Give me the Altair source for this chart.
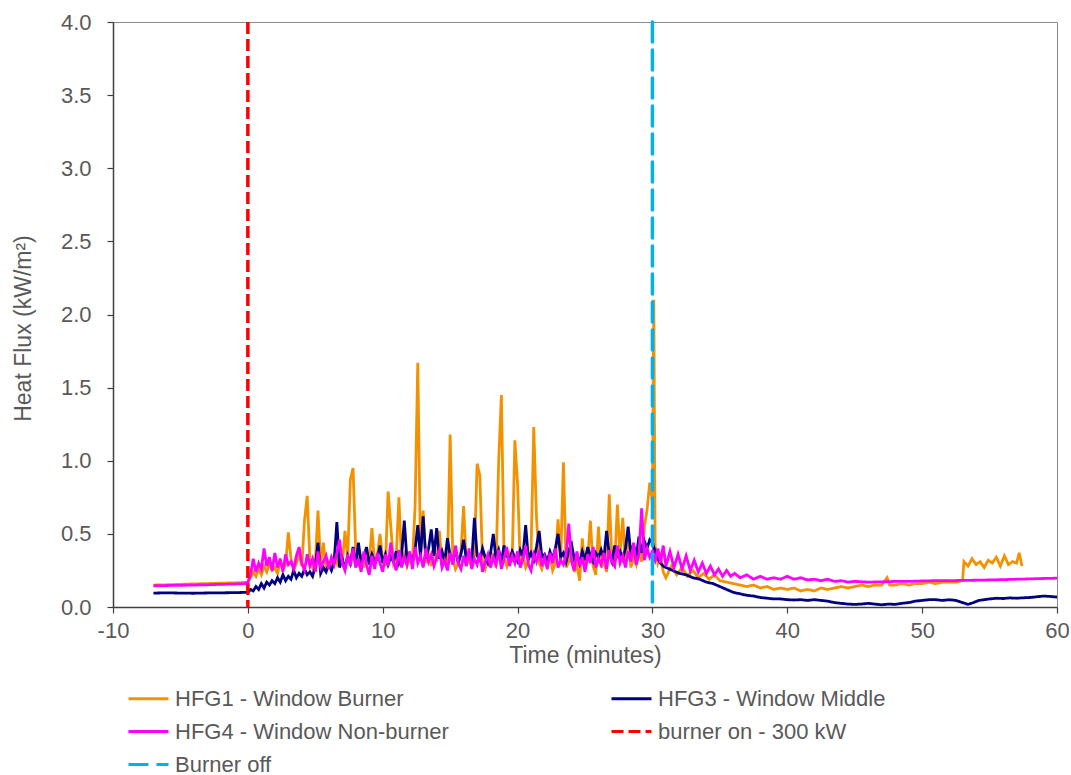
import altair as alt
import pandas as pd

# ---- measurement data (minutes, kW/m2) ----
# pre-ignition baseline
t_pre = [-7.0, -6.0, -5.0, -4.0, -3.0, -2.0, -1.0, -0.2]
hfg1_pre = [0.150, 0.152, 0.155, 0.158, 0.160, 0.163, 0.165, 0.168]
hfg3_pre = [0.095, 0.097, 0.095, 0.094, 0.096, 0.097, 0.098, 0.100]
hfg4_pre = [0.145, 0.147, 0.148, 0.150, 0.152, 0.155, 0.157, 0.160]

# burner period, logged every 0.2 min from 0 to 30 min
t_burn = [round(0.2 * i, 1) for i in range(151)]
hfg1_burn = [
    0.17, 0.20, 0.24, 0.21, 0.26, 0.22, 0.28, 0.24, 0.30, 0.25,
    0.27, 0.23, 0.31, 0.26, 0.29, 0.51, 0.33, 0.25, 0.30, 0.36,
    0.28, 0.59, 0.76, 0.32, 0.27, 0.30, 0.66, 0.29, 0.44, 0.26,
    0.31, 0.28, 0.35, 0.30, 0.40, 0.29, 0.52, 0.33, 0.87, 0.95,
    0.38, 0.30, 0.36, 0.27, 0.33, 0.31, 0.54, 0.29, 0.35, 0.50,
    0.32, 0.28, 0.79, 0.55, 0.30, 0.34, 0.75, 0.31, 0.36, 0.28,
    0.33, 0.30, 0.69, 1.67, 0.35, 0.66, 0.30, 0.36, 0.28, 0.40,
    0.31, 0.52, 0.29, 0.34, 0.27, 1.18, 0.33, 0.26, 0.30, 0.38,
    0.69, 0.28, 0.33, 0.27, 0.36, 0.98, 0.90, 0.31, 0.26, 0.34,
    0.29, 0.37, 0.27, 1.00, 1.45, 0.33, 0.28, 0.36, 0.31, 1.14,
    0.84, 0.29, 0.35, 0.27, 0.31, 0.38, 1.23, 0.62, 0.30, 0.26,
    0.33, 0.28, 0.36, 0.25, 0.30, 0.60, 0.32, 0.99, 0.27, 0.31,
    0.42, 0.24, 0.29, 0.18, 0.47, 0.26, 0.33, 0.59, 0.28, 0.22,
    0.55, 0.27, 0.31, 0.24, 0.77, 0.30, 0.28, 0.70, 0.35, 0.61,
    0.30, 0.52, 0.27, 0.34, 0.29, 0.38, 0.31, 0.55, 0.66, 0.85,
    0.72,
]
hfg3_burn = [
    0.10, 0.12, 0.11, 0.14, 0.12, 0.16, 0.13, 0.17, 0.15, 0.18,
    0.16, 0.20, 0.17, 0.22, 0.18, 0.21, 0.19, 0.25, 0.20, 0.23,
    0.21, 0.26, 0.22, 0.24, 0.21, 0.28, 0.44, 0.23, 0.27, 0.24,
    0.29, 0.25, 0.31, 0.58, 0.27, 0.33, 0.26, 0.35, 0.30, 0.41,
    0.28, 0.44, 0.30, 0.34, 0.41, 0.29, 0.36, 0.31, 0.33, 0.42,
    0.30, 0.36, 0.29, 0.34, 0.31, 0.38, 0.30, 0.35, 0.59, 0.32,
    0.36, 0.31, 0.39, 0.56, 0.34, 0.62, 0.33, 0.40, 0.53, 0.35,
    0.54, 0.33, 0.38, 0.31, 0.47, 0.35, 0.32, 0.39, 0.30, 0.36,
    0.46, 0.33, 0.37, 0.31, 0.61, 0.35, 0.32, 0.40, 0.34, 0.30,
    0.37, 0.50, 0.33, 0.39, 0.31, 0.42, 0.35, 0.32, 0.38, 0.34,
    0.31, 0.39, 0.35, 0.56, 0.33, 0.37, 0.32, 0.41, 0.52, 0.34,
    0.36, 0.31, 0.38, 0.33, 0.40, 0.50, 0.34, 0.37, 0.31, 0.39,
    0.43, 0.33, 0.36, 0.30, 0.38, 0.32, 0.41, 0.35, 0.31, 0.37,
    0.34, 0.39, 0.33, 0.52, 0.36, 0.31, 0.42, 0.35, 0.38, 0.33,
    0.40, 0.55, 0.36, 0.43, 0.34, 0.48, 0.37, 0.45, 0.40, 0.46,
    0.44,
]
hfg4_burn = [
    0.17, 0.22, 0.33, 0.24, 0.30, 0.26, 0.40, 0.28, 0.34, 0.25,
    0.37, 0.27, 0.33, 0.24, 0.36, 0.29, 0.31, 0.26, 0.35, 0.41,
    0.30, 0.25, 0.36, 0.28, 0.33, 0.24, 0.38, 0.27, 0.31, 0.35,
    0.26, 0.34, 0.29, 0.37, 0.46, 0.30, 0.25, 0.36, 0.28, 0.40,
    0.27, 0.33, 0.24, 0.38, 0.29, 0.22, 0.35, 0.26, 0.37, 0.30,
    0.24, 0.36, 0.28, 0.44, 0.31, 0.25, 0.39, 0.27, 0.34, 0.29,
    0.38, 0.26, 0.41, 0.30, 0.35, 0.27, 0.40, 0.31, 0.36, 0.28,
    0.34, 0.39, 0.27, 0.32, 0.25, 0.37, 0.29, 0.42, 0.30, 0.26,
    0.35, 0.28, 0.40, 0.26, 0.33, 0.29, 0.37, 0.24, 0.31, 0.36,
    0.27, 0.34, 0.29, 0.39, 0.26, 0.33, 0.41, 0.28, 0.35, 0.30,
    0.38, 0.27, 0.33, 0.42, 0.29, 0.25, 0.36, 0.31, 0.39, 0.28,
    0.34, 0.26, 0.37, 0.30, 0.40, 0.27, 0.32, 0.29, 0.36, 0.57,
    0.31, 0.25, 0.38, 0.28, 0.34, 0.24, 0.36, 0.30, 0.41, 0.27,
    0.33, 0.29, 0.37, 0.26, 0.39, 0.31, 0.28, 0.42, 0.30, 0.35,
    0.27, 0.38, 0.31, 0.44, 0.29, 0.36, 0.675, 0.32, 0.40, 0.34,
    0.38,
]

# cooling period after the burner is switched off
t1_post = [30.1, 30.2, 30.4, 30.6, 30.8, 31.0, 31.4, 31.8, 32.2, 32.6, 33.0,
           33.4, 33.8, 34.2, 34.6, 35.0, 35.5, 36.0, 36.5, 37.0, 37.5,
           38.0, 38.5, 39.0, 39.5, 40.0, 40.5, 41.0, 41.5, 42.0, 42.5,
           43.0, 43.5, 44.0, 44.5, 45.0, 45.5, 46.0, 46.5, 47.0, 47.4,
           47.6, 48.0, 48.5, 49.0, 49.5, 50.0, 50.5, 51.0, 51.5, 52.0,
           52.5, 53.0, 53.1, 53.4, 53.7, 54.0, 54.3, 54.6, 54.9, 55.2,
           55.5, 55.8, 56.1, 56.4, 56.7, 57.0, 57.2, 57.4]
hfg1_post = [2.10, 0.42, 0.30, 0.35, 0.24, 0.20, 0.28, 0.22, 0.27, 0.21, 0.25,
             0.20, 0.23, 0.19, 0.22, 0.18, 0.17, 0.16, 0.15, 0.14, 0.15,
             0.13, 0.14, 0.12, 0.13, 0.12, 0.13, 0.11, 0.12, 0.11, 0.13,
             0.12, 0.13, 0.14, 0.13, 0.14, 0.15, 0.14, 0.15, 0.15, 0.20,
             0.15, 0.15, 0.16, 0.15, 0.16, 0.16, 0.17, 0.16, 0.17, 0.17,
             0.17, 0.18, 0.31, 0.28, 0.33, 0.29, 0.31, 0.27, 0.32, 0.30,
             0.34, 0.28, 0.35, 0.29, 0.31, 0.30, 0.37, 0.28]

t3_post = [30.2, 30.4, 30.6, 30.8, 31.0, 31.5, 32.0, 32.5, 33.0, 33.5,
           34.0, 34.5, 35.0, 35.5, 36.0, 36.5, 37.0, 37.5, 38.0, 38.5,
           39.0, 39.5, 40.0, 40.5, 41.0, 41.5, 42.0, 42.5, 43.0, 43.5,
           44.0, 44.5, 45.0, 45.5, 46.0, 46.5, 47.0, 47.5, 48.0, 48.5,
           49.0, 49.5, 50.0, 50.5, 51.0, 51.5, 52.0, 52.5, 53.0, 53.4,
           53.8, 54.2, 54.6, 55.0, 55.5, 56.0, 56.5, 57.0, 57.5, 58.0,
           58.5, 59.0, 59.5, 60.0]
hfg3_post = [0.38, 0.33, 0.30, 0.28, 0.27, 0.25, 0.23, 0.22, 0.20, 0.19,
             0.17, 0.16, 0.14, 0.12, 0.10, 0.09, 0.08, 0.075, 0.065, 0.06,
             0.055, 0.055, 0.05, 0.048, 0.05, 0.045, 0.05, 0.045, 0.04, 0.03,
             0.025, 0.02, 0.018, 0.02, 0.025, 0.02, 0.015, 0.02, 0.018, 0.025,
             0.03, 0.04, 0.045, 0.05, 0.05, 0.045, 0.05, 0.045, 0.03, 0.018,
             0.03, 0.045, 0.05, 0.055, 0.06, 0.058, 0.062, 0.06, 0.063, 0.065,
             0.07, 0.075, 0.072, 0.068]

t4_post = [30.2, 30.4, 30.6, 30.8, 31.0, 31.3, 31.6, 31.9, 32.2, 32.5,
           32.8, 33.1, 33.4, 33.7, 34.0, 34.3, 34.6, 34.9, 35.2, 35.5,
           35.8, 36.1, 36.5, 37.0, 37.5, 38.0, 38.5, 39.0, 39.5, 40.0,
           40.5, 41.0, 41.5, 42.0, 42.5, 43.0, 43.5, 44.0, 44.5, 45.0,
           46.0, 47.0, 48.0, 49.0, 50.0, 51.0, 52.0, 53.0, 54.0, 55.0,
           56.0, 57.0, 58.0, 59.0, 60.0]
hfg4_post = [0.32, 0.40, 0.30, 0.42, 0.28, 0.38, 0.27, 0.36, 0.26, 0.35,
             0.25, 0.32, 0.24, 0.30, 0.23, 0.28, 0.22, 0.26, 0.21, 0.25,
             0.21, 0.23, 0.20, 0.22, 0.19, 0.21, 0.19, 0.20, 0.19, 0.21,
             0.19, 0.20, 0.185, 0.19, 0.18, 0.19, 0.175, 0.18, 0.17, 0.175,
             0.17, 0.172, 0.175, 0.175, 0.178, 0.18, 0.18, 0.182, 0.183, 0.185,
             0.187, 0.19, 0.192, 0.195, 0.197]

# burner events (minutes)
event_names = ["burner on - 300 kW", "Burner off"]
event_times = [0.0, 30.0]

series_names = ["HFG1 - Window Burner", "HFG3 - Window Middle",
                "HFG4 - Window Non-burner", "burner on - 300 kW", "Burner off"]
series_colors = ["#F39200", "#000080", "#FF00FF", "#FF0000", "#00B0F0"]
series_dash = [[1, 0], [1, 0], [1, 0], [12, 5], [20, 8]]


def frame(name, t, v):
    return pd.DataFrame({"t": t, "v": v, "series": name})


hfg1 = frame(series_names[0], t_pre + t_burn + t1_post, hfg1_pre + hfg1_burn + hfg1_post)
hfg3 = frame(series_names[1], t_pre + t_burn + t3_post, hfg3_pre + hfg3_burn + hfg3_post)
hfg4 = frame(series_names[2], t_pre + t_burn + t4_post, hfg4_pre + hfg4_burn + hfg4_post)
events = pd.DataFrame({"t": event_times, "series": event_names})

FONT = "Liberation Sans"
TXT = "#595959"

x_enc = alt.X("t:Q", scale=alt.Scale(domain=[-10, 60], nice=False),
              axis=alt.Axis(values=list(range(-10, 61, 10)), labelExpr="'' + datum.value",
                            labelFlush=False, title="Time (minutes)", titleY=55,
                            titleBaseline="alphabetic"))
y_enc = alt.Y("v:Q", scale=alt.Scale(domain=[0, 4], nice=False),
              axis=alt.Axis(values=[0, 0.5, 1, 1.5, 2, 2.5, 3, 3.5, 4], format=".1f",
                            labelFlush=False, title="Heat Flux (kW/m²)", titleX=-83,
                            titleY=306, titleAngle=-90, titleAlign="center",
                            titleBaseline="alphabetic", labelPadding=16))
color_enc = alt.Color("series:N",
                      scale=alt.Scale(domain=series_names, range=series_colors),
                      legend=alt.Legend(title=None, orient="none", legendX=14,
                                        legendY=655, columns=2, direction="horizontal",
                                        columnPadding=156, rowPadding=-11,
                                        symbolType="stroke", symbolSize=1600,
                                        symbolStrokeWidth=3, labelFontSize=22,
                                        labelColor=TXT, labelFont=FONT, labelOffset=5,
                                        labelLimit=500, padding=0))
dash_enc = alt.StrokeDash("series:N",
                          scale=alt.Scale(domain=series_names, range=series_dash),
                          legend=None)


def series_line(df):
    return alt.Chart(df).mark_line(strokeWidth=2.8, interpolate="linear").encode(
        x=x_enc, y=y_enc, color=color_enc, strokeDash=dash_enc, order="t:Q")


on_rule = alt.Chart(events.iloc[[0]]).mark_rule(strokeWidth=3.5, strokeCap="butt").encode(
    x="t:Q", color=color_enc, strokeDash=dash_enc)
off_rule = alt.Chart(events.iloc[[1]]).mark_rule(strokeWidth=3.5, strokeCap="round").encode(
    x="t:Q", color=color_enc, strokeDash=dash_enc)

chart = alt.layer(
    series_line(hfg1), series_line(hfg3), series_line(hfg4), off_rule, on_rule
).properties(
    width=944, height=585,
    autosize=alt.AutoSizeParams(type="none"),
    padding={"left": 113, "top": 22, "right": 14, "bottom": 168},
).configure_view(
    stroke="#8c8c8c", strokeWidth=1
).configure_axis(
    grid=False, domainColor="#404040", domainWidth=1.5, tickColor="#404040",
    tickSize=6, tickWidth=1.2, labelFont=FONT, labelFontSize=22, labelColor=TXT,
    titleFont=FONT, titleFontSize=23, titleColor=TXT, titleFontWeight="normal",
    labelPadding=7
)

chart.save("out.html", embed_options={"renderer": "svg", "actions": False})
